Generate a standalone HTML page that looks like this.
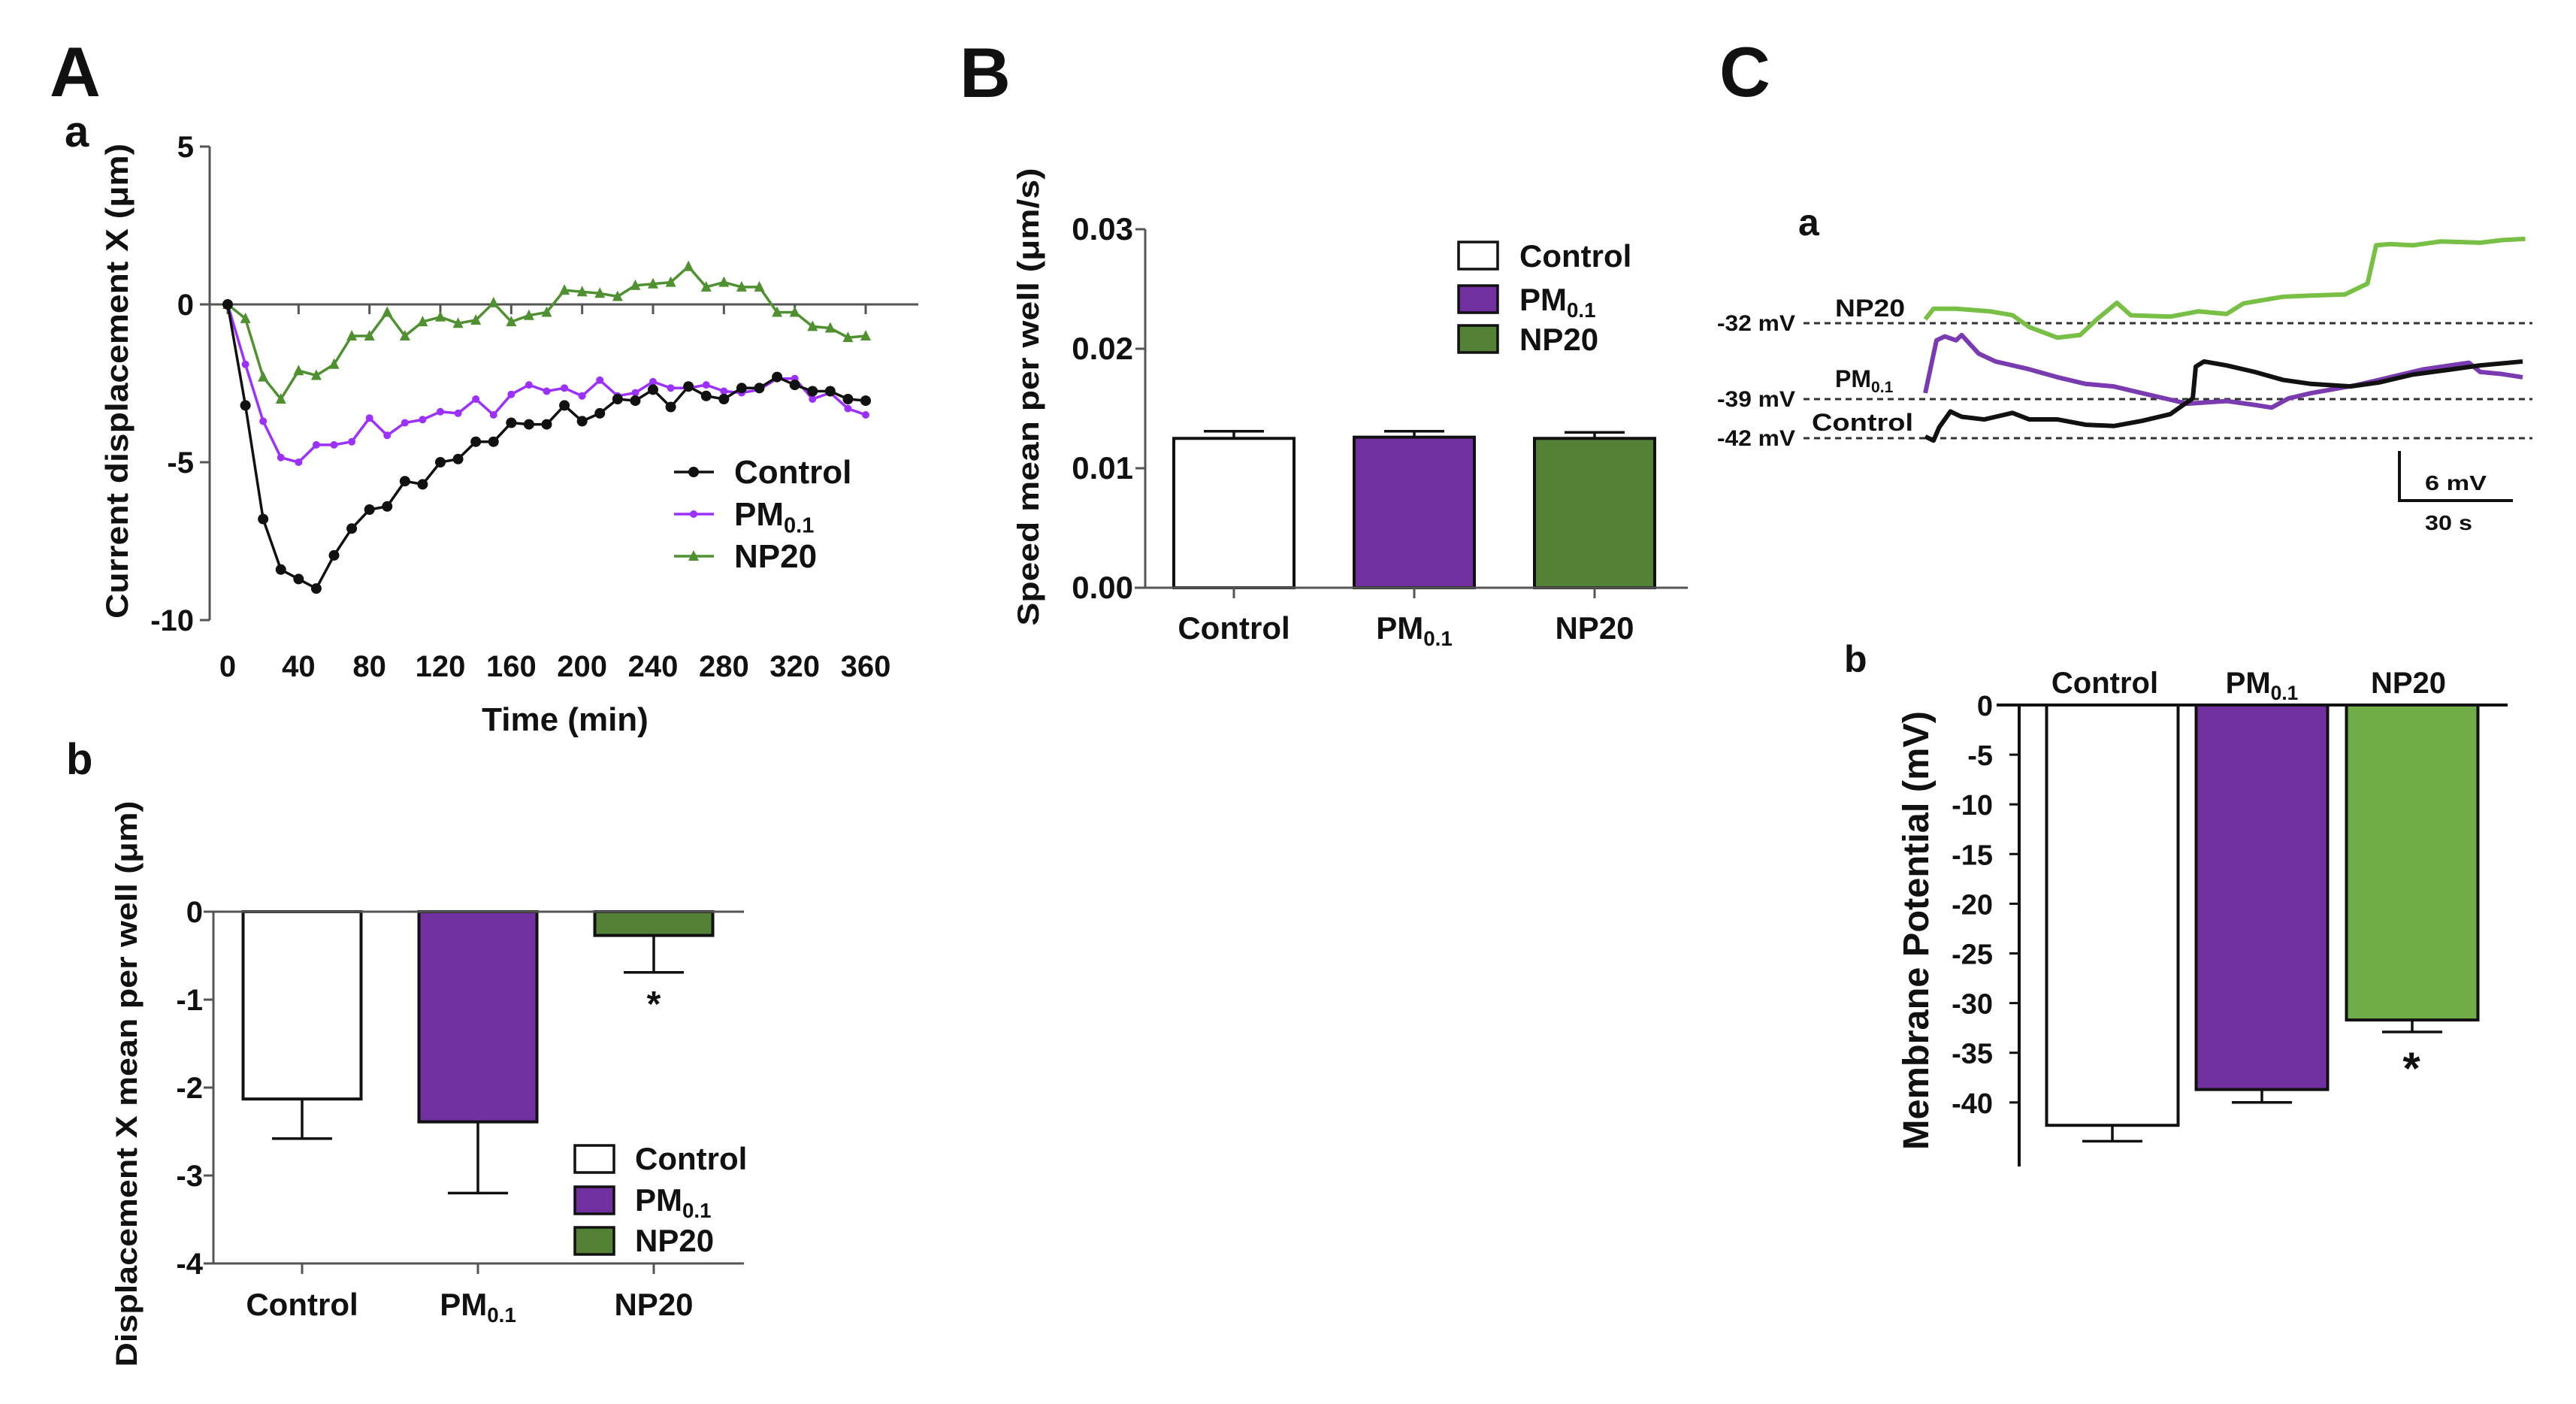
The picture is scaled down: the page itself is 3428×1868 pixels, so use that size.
<!DOCTYPE html>
<html><head><meta charset="utf-8">
<style>
html,body{margin:0;padding:0;background:#fff;}
svg{display:block;font-family:"Liberation Sans",Arial,sans-serif;}
text{font-weight:bold;fill:#111;}
</style></head>
<body>
<svg id="fig" width="3428" height="1868" viewBox="0 0 3428 1868" xmlns="http://www.w3.org/2000/svg">
<rect x="0" y="0" width="3428" height="1868" fill="#fff"/>
<text x="66" y="128" font-size="94">A</text>
<text x="86" y="195" font-size="58">a</text>
<text x="88" y="1030" font-size="58">b</text>
<text x="1277" y="129" font-size="94">B</text>
<text x="2288" y="128" font-size="94">C</text>
<text x="2393" y="313" font-size="50">a</text>
<text x="2454" y="894" font-size="50">b</text>
</svg>
<script>
// ---------- DATA ----------
const timeA = [0,10,20,30,40,50,60,70,80,90,100,110,120,130,140,150,160,170,180,190,200,210,220,230,240,250,260,270,280,290,300,310,320,330,340,350,360];
const ctrlA = [0,-3.2,-6.8,-8.4,-8.7,-9.0,-7.95,-7.1,-6.5,-6.4,-5.6,-5.7,-5.0,-4.9,-4.35,-4.35,-3.75,-3.8,-3.8,-3.2,-3.7,-3.45,-3.0,-3.05,-2.7,-3.25,-2.6,-2.9,-3.0,-2.65,-2.65,-2.3,-2.55,-2.75,-2.75,-3.0,-3.05];
const pmA = [0,-1.9,-3.7,-4.85,-5.0,-4.45,-4.45,-4.35,-3.6,-4.15,-3.75,-3.65,-3.4,-3.45,-3.0,-3.5,-2.85,-2.55,-2.75,-2.65,-2.9,-2.4,-2.9,-2.8,-2.45,-2.65,-2.65,-2.55,-2.75,-2.8,-2.7,-2.35,-2.35,-3.0,-2.8,-3.3,-3.5];
const npA = [0,-0.45,-2.3,-3.0,-2.1,-2.25,-1.9,-1.0,-1.0,-0.25,-1.0,-0.55,-0.4,-0.6,-0.5,0.05,-0.55,-0.35,-0.25,0.45,0.4,0.35,0.25,0.6,0.65,0.7,1.2,0.55,0.7,0.55,0.55,-0.25,-0.25,-0.7,-0.75,-1.05,-1.0];
const xTicksA = [0,40,80,120,160,200,240,280,320,360];
const yTicksA = [5,0,-5,-10];

const groups = ["Control","PM","NP20"];
const dispMean = [-2.13,-2.39,-0.27];
const dispErr = [0.45,0.81,0.42];
const yTicksAB = [0,-1,-2,-3,-4];

const speedMean = [0.0125,0.0126,0.0125];
const speedErr = [0.0006,0.0005,0.0005];
const yTicksBS = [0.00,0.01,0.02,0.03];

const memMean = [-42.3,-38.7,-31.7];
const memErr = [1.6,1.3,1.2];
const yTicksCM = [0,-5,-10,-15,-20,-25,-30,-35,-40];

const npT = [0,2.2,8.2,17.2,23.2,27.7,35.2,41.2,45.7,51,54.7,65.2,72.7,80.2,84.7,95.2,102.7,111.7,117.7,120,123.7,129.7,137.2,147.7,153.7,159.7];
const npV = [-31.66,-30.74,-30.74,-30.97,-31.3,-32.34,-33.26,-33.03,-31.66,-30.23,-31.31,-31.43,-30.97,-31.2,-30.28,-29.7,-29.6,-29.5,-28.56,-25.23,-25.12,-25.23,-24.89,-25.0,-24.77,-24.66];
const pmT = [0,3,5.2,8.2,9.7,14.2,18.7,27.7,35.2,42.7,50.2,57.7,65.2,69.7,80.2,87.7,92.2,96.7,102.7,114.7,125.2,132.7,144.7,147.7,153.7,159];
const pmV = [-38.08,-33.49,-33.15,-33.49,-33.03,-34.64,-35.33,-36.01,-36.7,-37.28,-37.5,-38.08,-38.65,-39.0,-38.77,-39.11,-39.34,-38.54,-38.08,-37.39,-36.59,-36.01,-35.44,-36.24,-36.43,-36.7];
const ctT = [0,2.2,3.7,6.7,9.7,15.7,23.2,27.7,35.2,42.7,50.2,57.7,65.2,68.2,71.2,72,74.2,80.2,87.7,95.2,102.7,113.2,120.7,129.7,140.2,147.7,159];
const ctV = [-41.86,-42.21,-41.06,-39.68,-40.14,-40.37,-39.8,-40.37,-40.37,-40.83,-40.94,-40.49,-39.91,-39.22,-38.54,-35.78,-35.33,-35.67,-36.24,-36.93,-37.28,-37.5,-37.16,-36.47,-36.01,-35.67,-35.33];
const refLevels = [-32,-39,-42];

// ---------- HELPERS ----------
const NS = "http://www.w3.org/2000/svg";
const svg = document.getElementById("fig");
function mk(tag, attrs){const e=document.createElementNS(NS,tag);for(const k in attrs)e.setAttribute(k,attrs[k]);svg.appendChild(e);return e;}
function label(txt,x,y,fs,anchor){
  const t=mk("text",{x:x,y:y,"font-size":fs,"text-anchor":anchor||"middle"});
  if(txt==="PM"){t.textContent="PM";const s=document.createElementNS(NS,"tspan");s.setAttribute("font-size",fs*0.66);s.setAttribute("dy",fs*0.22);s.textContent="0.1";t.appendChild(s);}
  else t.textContent=txt;
  return t;
}
const GRAY="#555";

// ---------- A-a LINE CHART ----------
const xA=t=>303+t*(1152-303)/360;
const yA=v=>405-v*42;
let e;
e=mk("line",{x1:279,y1:yA(5),x2:279,y2:yA(-10),stroke:GRAY,"stroke-width":3});


e=mk("line",{x1:279,y1:yA(0),x2:1222,y2:yA(0),stroke:GRAY,"stroke-width":3});


yTicksA.forEach(v=>{
  e=mk("line",{x1:266,y1:yA(v),x2:279,y2:yA(v),stroke:GRAY,"stroke-width":3});
  
  
  e=label(String(v),258,yA(v)+14,40,"end");
  
  
});
xTicksA.forEach(t=>{
  e=mk("line",{x1:xA(t),y1:yA(0),x2:xA(t),y2:yA(0)+13,stroke:GRAY,"stroke-width":3});
  
  
  e=label(String(t),xA(t),900,40);
  
  
});
e=label("Time (min)",752,972,44);


e=mk("text",{x:0,y:0,"font-size":42,"text-anchor":"middle",transform:"translate(170,507) rotate(-90)",textLength:632,lengthAdjust:"spacingAndGlyphs"});
e.textContent="Current displacement X (\u03bcm)";



const seriesA=[{d:npA,c:"#4f9030",m:"tri",n:"np20"},{d:pmA,c:"#9b30ff",m:"sc",n:"pm01"},{d:ctrlA,c:"#111",m:"c",n:"control"}];
function marker(kind,x,y,c){
  if(kind==="tri") return mk("polygon",{points:`${x},${y-8} ${x-7},${y+6} ${x+7},${y+6}`,fill:c});
  return mk("circle",{cx:x,cy:y,r:kind==="c"?7:5,fill:c});
}
seriesA.forEach(s=>{
  e=mk("polyline",{points:timeA.map((t,i)=>xA(t)+","+yA(s.d[i])).join(" "),fill:"none",stroke:s.c,"stroke-width":3.5});
  
  
  timeA.forEach((t,i)=>{
    e=marker(s.m,xA(t),yA(s.d[i]),s.c);
    
    
  });
});
const legA=[{n:"Control",c:"#111",m:"c"},{n:"PM",c:"#9b30ff",m:"sc"},{n:"NP20",c:"#4f9030",m:"tri"}];
legA.forEach((l,i)=>{
  const yy=[628,684,740][i];
  e=mk("line",{x1:897,y1:yy,x2:950,y2:yy,stroke:l.c,"stroke-width":3.5});
  
  
  e=marker(l.m,923,yy,l.c);
  
  
  e=label(l.n,977,yy+15,44,"start");
  
  
});

// ---------- BAR HELPERS ----------
const fillsDark=["#fff","#7030a0","#538135"];
function barChart(cfg){
  cfg.ticks.forEach(v=>{
    e=mk("line",{x1:cfg.axX-13,y1:cfg.y(v),x2:cfg.axX,y2:cfg.y(v),stroke:cfg.axC,"stroke-width":3});
    
    
    e=label(cfg.fmt(v),cfg.tickX,cfg.y(v)+14,cfg.tfs,"end");
    
    
  });
  cfg.means.forEach((m,i)=>{
    const xc=cfg.xc[i],w=cfg.bw;
    const y0=cfg.y(0),y1=cfg.y(m);
    const ye=cfg.y(m+Math.sign(m)*cfg.errs[i]);
    e=mk("line",{x1:xc,y1:y1,x2:xc,y2:ye,stroke:"#111","stroke-width":3.5});
    
    
    e=mk("line",{x1:xc-40,y1:ye,x2:xc+40,y2:ye,stroke:"#111","stroke-width":3.5});
    
    
    e=mk("rect",{x:xc-w/2,y:Math.min(y0,y1),width:w,height:Math.abs(y1-y0),fill:cfg.fills[i],stroke:"#111","stroke-width":4});
    
    
  });
}

// ---------- A-b ----------
const yB=v=>1213-v*(-117)*-1;
function yAB(v){return 1213-v*117;}
const xcAB=[402,636,870];
e=mk("line",{x1:284,y1:yAB(0),x2:284,y2:yAB(-4),stroke:GRAY,"stroke-width":3});


e=mk("line",{x1:284,y1:yAB(-4),x2:990,y2:yAB(-4),stroke:GRAY,"stroke-width":3});


xcAB.forEach(x=>{
  e=mk("line",{x1:x,y1:yAB(-4),x2:x,y2:yAB(-4)+14,stroke:GRAY,"stroke-width":3});
  
  
});
barChart({p:"ab",ticks:yTicksAB,y:yAB,axX:284,axC:GRAY,tickX:270,tfs:40,fmt:v=>String(v),means:dispMean,errs:dispErr,xc:xcAB,bw:157,fills:fillsDark});
e=mk("line",{x1:284,y1:yAB(0),x2:990,y2:yAB(0),stroke:GRAY,"stroke-width":3});


groups.forEach((g,i)=>{
  e=label(g,xcAB[i],1750,42);
  
  
});
e=label("*",870,1352,48);


e.setAttribute('fill','#444');
e=mk("text",{x:0,y:0,"font-size":40,"text-anchor":"middle",transform:"translate(182,1442) rotate(-90)",textLength:753,lengthAdjust:"spacingAndGlyphs"});
e.textContent="Displacement X mean per well (\u03bcm)";


groups.forEach((g,i)=>{
  const yy=[1541,1596,1650][i];
  e=mk("rect",{x:765,y:yy-17,width:52,height:36,fill:fillsDark[i],stroke:"#111","stroke-width":3.5});
  
  
  e=label(g,845,yy+15,42,"start");
  
  
});

// ---------- B ----------
const yS=v=>782-v/0.01*159;
const xcS=[1642,1882,2122];
e=mk("line",{x1:1524,y1:yS(0.03),x2:1524,y2:yS(0),stroke:GRAY,"stroke-width":3});


barChart({p:"b",ticks:yTicksBS,y:yS,axX:1524,axC:GRAY,tickX:1508,tfs:42,fmt:v=>v.toFixed(2),means:speedMean,errs:speedErr,xc:xcS,bw:160,fills:fillsDark});
e=mk("line",{x1:1510,y1:yS(0),x2:2246,y2:yS(0),stroke:GRAY,"stroke-width":3});


xcS.forEach((x,i)=>{
  e=mk("line",{x1:x,y1:yS(0),x2:x,y2:yS(0)+14,stroke:GRAY,"stroke-width":3});
  
  
  e=label(groups[i],x,850,42);
  
  
});
e=mk("text",{x:0,y:0,"font-size":40,"text-anchor":"middle",transform:"translate(1382,528) rotate(-90)",textLength:609,lengthAdjust:"spacingAndGlyphs"});
e.textContent="Speed mean per well (\u03bcm/s)";


groups.forEach((g,i)=>{
  const yy=[340,398,451][i];
  e=mk("rect",{x:1941,y:yy-18,width:52,height:36,fill:fillsDark[i],stroke:"#111","stroke-width":3.5});
  
  
  e=label(g,2022,yy+15,42,"start");
  
  
});

// ---------- C-a TRACES ----------
const xT=t=>2562+t*5;
const yT=v=>430-(v+32)*15.3;
refLevels.forEach((lv,i)=>{
  const yy=[430,531,583][i];
  e=mk("line",{x1:2400,y1:yy,x2:3370,y2:yy,stroke:"#333","stroke-width":3,"stroke-dasharray":"8,6"});
  
  
  e=mk("text",{x:2389,y:yy+10,"font-size":30,"text-anchor":"end","font-weight":"normal",textLength:104,lengthAdjust:"spacingAndGlyphs"});
  e.textContent=lv+" mV";
  
  
});
const traces=[{t:npT,v:npV,c:"#78bf45",n:"np20"},{t:pmT,v:pmV,c:"#7b3bb0",n:"pm01"},{t:ctT,v:ctV,c:"#111",n:"control"}];
traces.forEach(s=>{
  e=mk("polyline",{points:s.t.map((t,i)=>xT(t)+","+yT(s.v[i])).join(" "),fill:"none",stroke:s.c,"stroke-width":6,"stroke-linejoin":"round"});
  
  
});
e=mk("text",{x:2442,y:421,"font-size":32,textLength:93,lengthAdjust:"spacingAndGlyphs"});
e.textContent="NP20";


e=label("PM",2442,515,32,"start");


e=mk("text",{x:2411,y:573,"font-size":32,textLength:135,lengthAdjust:"spacingAndGlyphs"});
e.textContent="Control";


e=mk("polyline",{points:"3193,600 3193,666 3344,666",fill:"none",stroke:"#111","stroke-width":4});


e=mk("text",{x:3227,y:652,"font-size":28,"font-weight":"normal",textLength:82,lengthAdjust:"spacingAndGlyphs"});
e.textContent="6 mV";


e=mk("text",{x:3227,y:705,"font-size":28,"font-weight":"normal",textLength:63,lengthAdjust:"spacingAndGlyphs"});
e.textContent="30 s";



// ---------- C-b ----------
const yM=v=>938-v*13.22;
const xcM=[2811,3010,3210];
e=mk("line",{x1:2687,y1:yM(0),x2:2687,y2:1552,stroke:"#111","stroke-width":4});


barChart({p:"cb",ticks:yTicksCM,y:yM,axX:2687,axC:"#111",tickX:2652,tfs:38,fmt:v=>String(v),means:memMean,errs:memErr,xc:xcM,bw:175,fills:["#fff","#7030a0","#70ad47"]});
e=mk("line",{x1:2657,y1:yM(0),x2:3337,y2:yM(0),stroke:"#111","stroke-width":4});


groups.forEach((g,i)=>{
  e=label(g,[2801,3010,3205][i],922,40);
  
  
});
e=label("*",3209,1442,60);


e=mk("text",{x:0,y:0,"font-size":48,"text-anchor":"middle",transform:"translate(2566,1238) rotate(-90)",textLength:584,lengthAdjust:"spacingAndGlyphs"});
e.textContent="Membrane Potential (mV)";


</script>
</body></html>
